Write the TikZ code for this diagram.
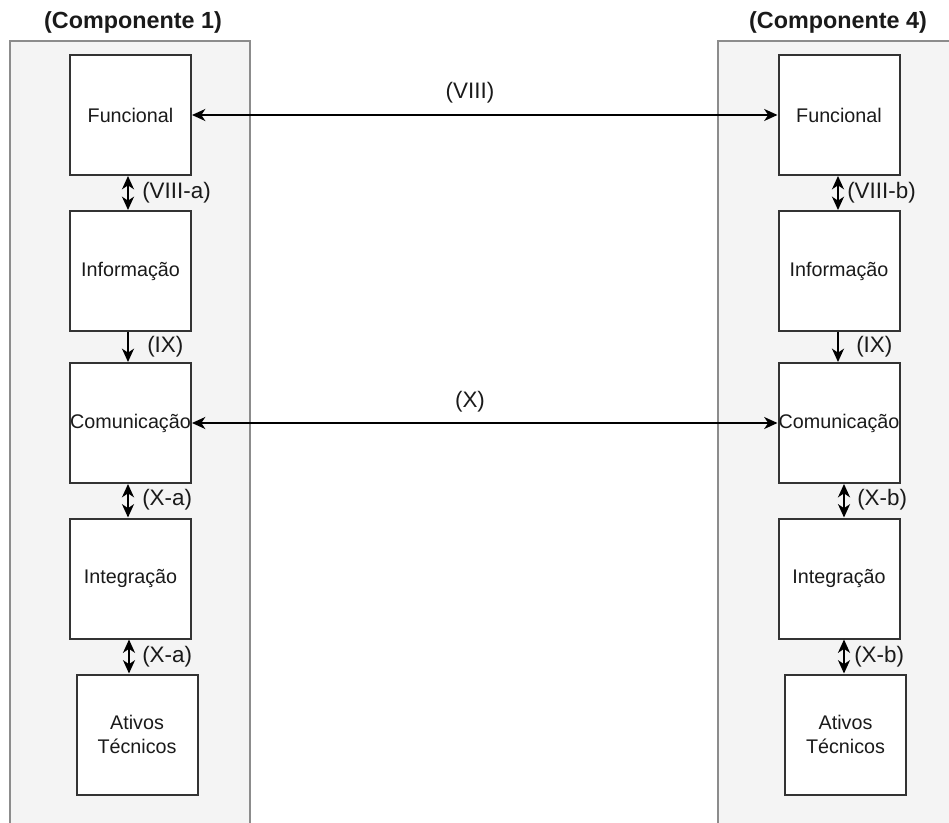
\documentclass[tikz,border=0pt]{standalone}
\usepackage{fontspec}
\setmainfont{Liberation Sans}
\usetikzlibrary{arrows.meta}
\definecolor{panelfill}{HTML}{F4F4F4}
\definecolor{panelline}{HTML}{8C8C8C}
\definecolor{boxline}{HTML}{333333}
\definecolor{ink}{HTML}{1A1A1A}

\begin{document}
\begin{tikzpicture}[x=0.75pt,y=-0.75pt,
  panel/.style={draw=panelline, line width=1.5pt},
  layer/.style={draw=boxline, fill=white, line width=1.5pt, inner sep=0pt,
    minimum width=90.75pt, minimum height=90pt, align=center,
    font=\fontsize{14.8pt}{17.5pt}\selectfont, text=ink},
  title/.style={font=\bfseries\fontsize{17.5pt}{21pt}\selectfont, text=ink, inner sep=0pt},
  tag/.style={font=\fontsize{16.8pt}{20pt}\selectfont, text=ink, inner sep=0pt, anchor=west},
  midtag/.style={font=\fontsize{16.8pt}{20pt}\selectfont, text=ink, inner sep=0pt},
  head/.tip={Stealth[length=10pt, width=9pt, inset=3pt]},
  link/.style={line width=1.5pt, -head},
  both/.style={line width=1.5pt, head-head}]

\useasboundingbox (0,0) rectangle (949,823);

% component panels (open at the page edges)
\fill[panelfill] (10,41) rectangle (250,823);
\draw[panel] (10,823) -- (10,41) -- (250,41) -- (250,823);
\fill[panelfill] (718,41) rectangle (949,823);
\draw[panel] (718,823) -- (718,41) -- (949,41);

\node[title] (t1) at (133,22) {(Componente 1)};
\node[title] (t4) at (838,22) {(Componente 4)};

% layers of component 1
\node[layer] (f1) at (130.5,115) {Funcional};
\node[layer] (i1) at (130.5,271) {Informação};
\node[layer] (c1) at (130.5,423) {Comunicação};
\node[layer] (g1) at (130.5,578.5) {Integração};
\node[layer] (a1) at (137,734.5) {Ativos\\Técnicos};

% layers of component 4
\node[layer] (f4) at (839,115) {Funcional};
\node[layer] (i4) at (839,271) {Informação};
\node[layer] (c4) at (839,423) {Comunicação};
\node[layer] (g4) at (839,578.5) {Integração};
\node[layer] (a4) at (845.5,734.5) {Ativos\\Técnicos};

% links between the two components
\draw[both] (f1.east) -- (f4.west);
\node[midtag] (l8) at (470,93) {(VIII)};
\draw[both] (c1.east) -- (c4.west);
\node[midtag] (l10) at (470,402) {(X)};

% vertical links, component 1
\coordinate (x1) at (128,0);
\draw[both] (f1.south -| x1) -- (i1.north -| x1);
\node[tag] at (142,193) {(VIII-a)};
\draw[link] (i1.south -| x1) -- (c1.north -| x1);
\node[tag] at (147,347) {(IX)};
\draw[both] (c1.south -| x1) -- (g1.north -| x1);
\node[tag] at (142,500) {(X-a)};
\coordinate (x2) at (129,0);
\draw[both] (g1.south -| x2) -- (a1.north -| x2);
\node[tag] at (142,657) {(X-a)};

% vertical links, component 4
\coordinate (x3) at (838,0);
\draw[both] (f4.south -| x3) -- (i4.north -| x3);
\node[tag] at (847,193) {(VIII-b)};
\draw[link] (i4.south -| x3) -- (c4.north -| x3);
\node[tag] at (856,347) {(IX)};
\coordinate (x4) at (844,0);
\draw[both] (c4.south -| x4) -- (g4.north -| x4);
\node[tag] at (857,500) {(X-b)};
\draw[both] (g4.south -| x4) -- (a4.north -| x4);
\node[tag] at (854,657) {(X-b)};
\end{tikzpicture}
\end{document}
